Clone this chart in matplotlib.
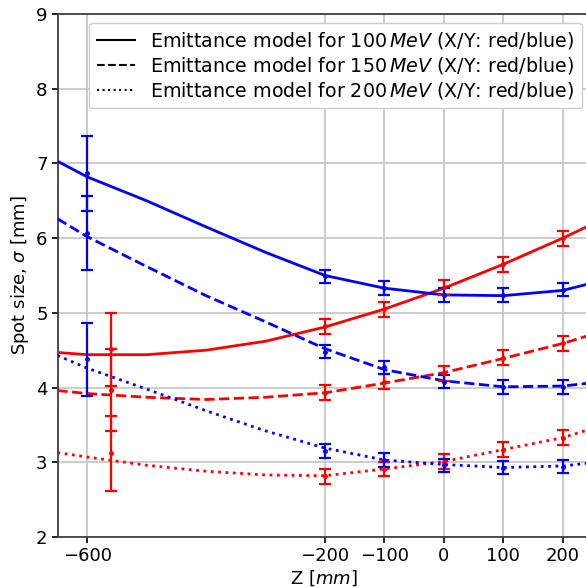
import numpy as np
import matplotlib
matplotlib.use("Agg")
import matplotlib.pyplot as plt

# measured spot sizes (sigma in mm) at the scan positions
z_meas = [-200, -100, 0, 100, 200]
red_100 = [4.82, 5.05, 5.34, 5.65, 6.00]
blue_100 = [5.49, 5.33, 5.24, 5.24, 5.31]
red_150 = [3.93, 4.08, 4.19, 4.40, 4.59]
blue_150 = [4.48, 4.27, 4.08, 4.01, 4.01]
red_200 = [2.81, 2.91, 3.01, 3.17, 3.33]
blue_200 = [3.15, 3.03, 2.96, 2.93, 2.94]
err_red = 0.1
err_blue = 0.09

# far upstream measurements (bigger uncertainty)
z_far_blue = -600
z_far_red = -560
far_blue = [6.865, 6.07, 4.38]
far_blue_err = [0.5, 0.5, 0.49]
far_red = [4.51, 3.97, 3.12]
far_red_err = [0.49, 0.55, 0.5]

# emittance model curves
z_model = [-650, -600, -500, -400, -300, -200, -100, 0, 100, 200, 245]
model_red_100 = [4.47, 4.44, 4.44, 4.50, 4.62, 4.81, 5.05, 5.33, 5.65, 6.00, 6.17]
model_blue_100 = [7.03, 6.82, 6.50, 6.15, 5.81, 5.50, 5.33, 5.24, 5.23, 5.30, 5.39]
model_red_150 = [3.96, 3.92, 3.87, 3.84, 3.87, 3.93, 4.06, 4.20, 4.39, 4.59, 4.70]
model_blue_150 = [6.26, 6.02, 5.62, 5.23, 4.88, 4.52, 4.24, 4.09, 4.01, 4.02, 4.06]
model_red_200 = [3.13, 3.07, 2.96, 2.88, 2.83, 2.82, 2.91, 3.01, 3.17, 3.33, 3.44]
model_blue_200 = [4.43, 4.26, 3.98, 3.69, 3.42, 3.19, 3.03, 2.97, 2.93, 2.95, 2.99]

energies = [100, 150, 200]
styles = ["-", "--", ":"]

fig = plt.figure(figsize=(5.86, 5.87), dpi=100)
ax = fig.add_axes([0.099, 0.0852, 0.908, 0.891])

models_red = [model_red_100, model_red_150, model_red_200]
models_blue = [model_blue_100, model_blue_150, model_blue_200]
meas_red = [red_100, red_150, red_200]
meas_blue = [blue_100, blue_150, blue_200]

ebar = dict(fmt=".", ms=5, elinewidth=1.6, capsize=4.5, capthick=1.6, zorder=4)
for i, e in enumerate(energies):
    ax.plot(z_model, models_red[i], styles[i], color="red", lw=2, zorder=3)
    ax.plot(z_model, models_blue[i], styles[i], color="blue", lw=2, zorder=3)
    ax.errorbar(z_meas, meas_red[i], yerr=err_red, color="red", **ebar)
    ax.errorbar(z_meas, meas_blue[i], yerr=err_blue, color="blue", **ebar)
    ax.errorbar([z_far_blue], [far_blue[i]], yerr=far_blue_err[i], color="blue", **ebar)
    ax.errorbar([z_far_red], [far_red[i]], yerr=far_red_err[i], color="red", **ebar)

# legend handles in black, one per energy
handles = []
for i, e in enumerate(energies):
    h, = ax.plot([], [], styles[i], color="black", lw=1.5)
    handles.append(h)
labels = ["Emittance model for %d$\\,MeV$ (X/Y: red/blue)" % e for e in energies]
ax.legend(handles, labels, loc="upper right", fontsize=13.7, handlelength=2.0,
          labelspacing=0.2, borderaxespad=0.45, framealpha=1)

ax.set_xlim(-649, 246)
ax.set_ylim(2, 9)
ax.set_xticks([-600, -200, -100, 0, 100, 200])
ax.set_yticks(np.arange(2, 10, 1))
ax.grid(True, color="#c8c8c8", lw=1.3)
ax.set_axisbelow(True)
ax.tick_params(labelsize=13, length=4, width=1.2)
for s in ax.spines.values():
    s.set_linewidth(1.3)
    s.set_color("0.25")
ax.set_xlabel("Z [$mm$]", fontsize=13, labelpad=2)
ax.set_ylabel("Spot size, $\\sigma$ [mm]", fontsize=13, labelpad=4)

fig.savefig("out.png", dpi=100)
